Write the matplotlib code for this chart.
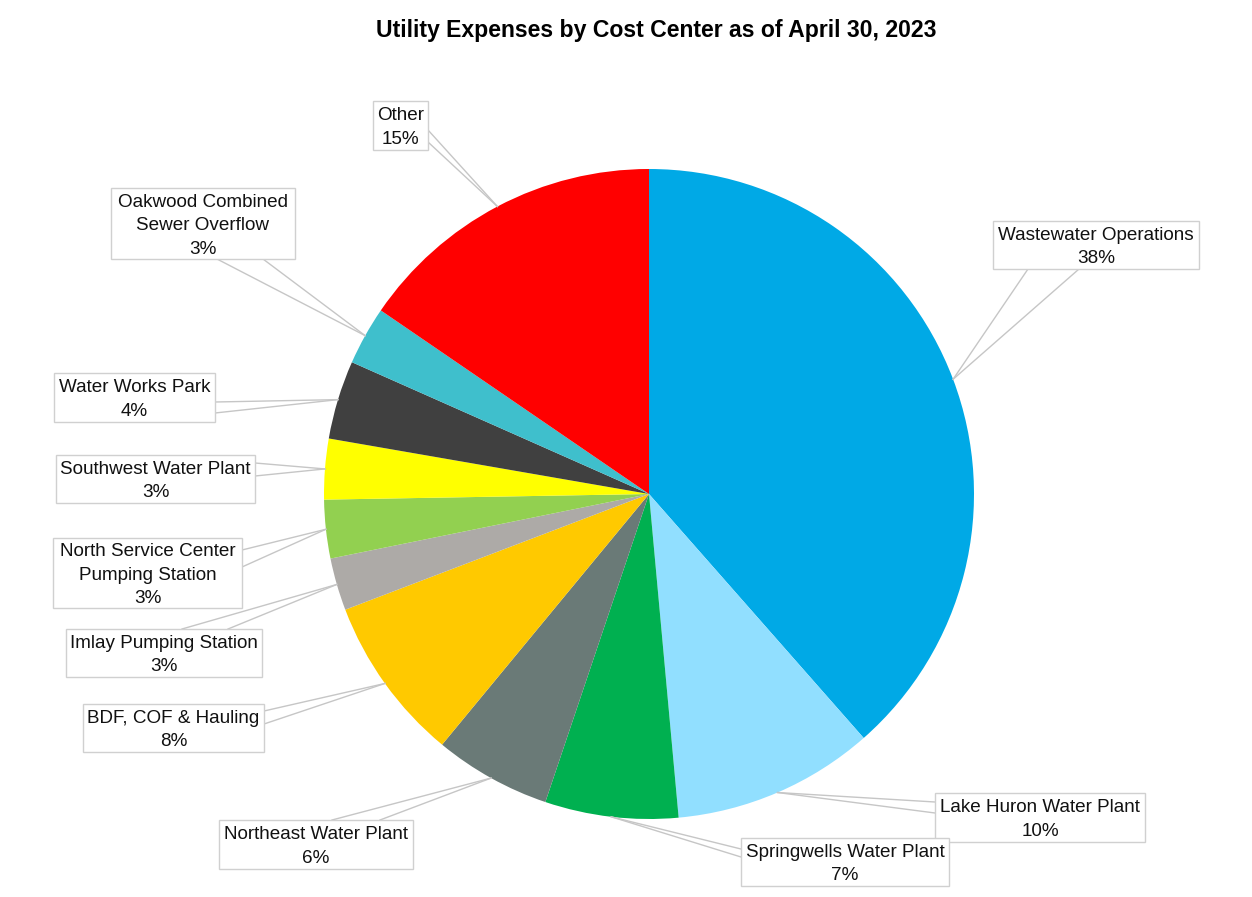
import numpy as np
import matplotlib
matplotlib.use("Agg")
import matplotlib.pyplot as plt
from matplotlib.patches import Rectangle

plt.rcParams['font.family'] = ['Liberation Sans', 'DejaVu Sans']

title = "Utility Expenses by Cost Center as of April 30, 2023"
categories = [
    "Wastewater Operations",
    "Lake Huron Water Plant",
    "Springwells Water Plant",
    "Northeast Water Plant",
    "BDF, COF & Hauling",
    "Imlay Pumping Station",
    "North Service Center\nPumping Station",
    "Southwest Water Plant",
    "Water Works Park",
    "Oakwood Combined\nSewer Overflow",
    "Other",
]
shares = [38.4, 10.0, 6.6, 5.8, 8.2, 2.6, 2.9, 3.0, 3.9, 2.9, 15.4]
pct_labels = ["38%", "10%", "7%", "6%", "8%", "3%", "3%", "3%", "4%", "3%", "15%"]
colors = ["#00A9E6", "#91DFFF", "#00B050", "#6A7A77", "#FFC900", "#ADAAA7",
          "#92D050", "#FFFF00", "#404040", "#3FBFCC", "#FF0000"]

W, H = 1252, 897
fig = plt.figure(figsize=(W / 100, H / 100), dpi=100)
ax = fig.add_axes([0, 0, 1, 1])


def Y(y):
    return H - y


cx, cy, R = 649, Y(494), 325
wedges, _ = ax.pie(shares, colors=colors, startangle=90, counterclock=False,
                   center=(cx, cy), radius=R, wedgeprops=dict(linewidth=0))
ax.set_xlim(0, W)
ax.set_ylim(0, H)
ax.set_aspect('equal')
ax.axis('off')

# label boxes (left, top, right, bottom) in pixel coords
boxes = [
    (993, 221, 1199, 269),
    (935, 793, 1145, 842),
    (741, 838, 949, 886),
    (219, 820, 413, 869),
    (83, 704, 264, 752),
    (66, 629, 262, 677),
    (53, 538, 242, 608),
    (56, 455, 255, 503),
    (54, 373, 215, 422),
    (111, 188, 295, 259),
    (373, 101, 428, 150),
]
bases = [
    ((1028, 269), (1079, 269)),
    ((935, 802), (935, 813)),
    ((741, 849), (741, 857)),
    ((332, 820), (380, 820)),
    ((264, 711), (264, 724)),
    ((182, 629), (228, 629)),
    ((242, 550), (242, 567)),
    ((255, 463), (255, 476)),
    ((215, 402), (215, 413)),
    ((217, 259), (263, 259)),
    ((428, 130), (428, 142)),
]

line_col = "#C6C6C6"
for w, cat, pct, box, base in zip(wedges, categories, pct_labels, boxes, bases):
    th = np.deg2rad((w.theta1 + w.theta2) / 2)
    axp, ayp = cx + R * np.cos(th), cy + R * np.sin(th)
    for bx, by in base:
        ax.plot([axp, bx], [ayp, Y(by)], color=line_col, lw=1, zorder=3)
    l, t, r, b = box
    ax.add_patch(Rectangle((l, Y(b)), r - l, b - t, facecolor='white',
                           edgecolor="#D0D0D0", lw=1, zorder=4))
    ax.text((l + r) / 2, Y((t + b) / 2) - 2, cat + "\n" + pct, ha='center',
            va='center', fontsize=13.6, color='#111111', linespacing=1.5,
            zorder=5)

ax.text(656, Y(30), title, ha='center', va='center', fontsize=16.6,
        fontweight='bold', color='black')

fig.savefig("out.png", dpi=100, facecolor='white')
